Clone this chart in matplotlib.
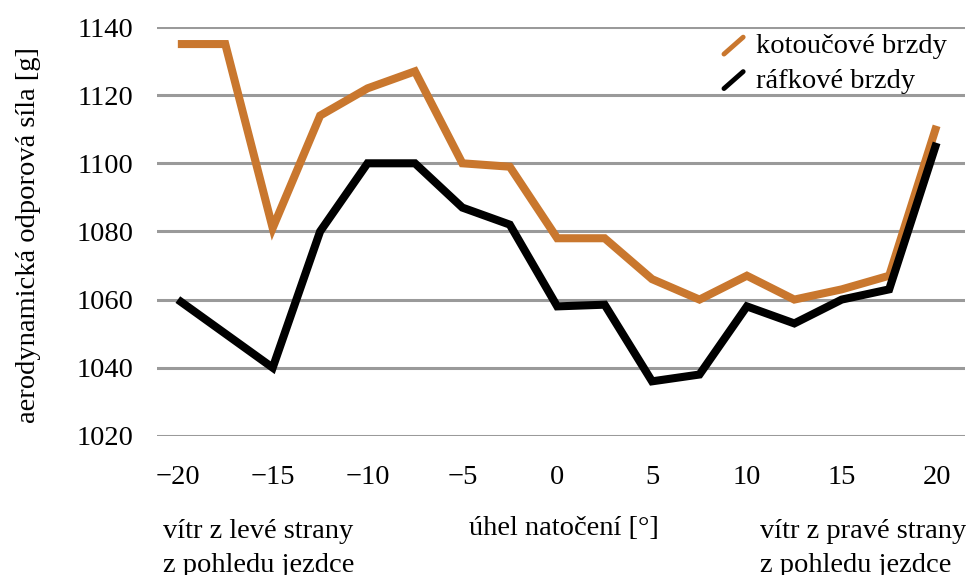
import matplotlib.pyplot as plt
from matplotlib.lines import Line2D
from matplotlib.legend_handler import HandlerBase

# angles of rotation and measured drag force [g]
angles_disc = [-20, -17.5, -15, -12.5, -10, -7.5, -5, -2.5, 0, 2.5, 5, 7.5, 10, 12.5, 15, 17.5, 20]
disc = [1135, 1135, 1081, 1114, 1122, 1127, 1100, 1099, 1078, 1078, 1066, 1060, 1067, 1060, 1063, 1067, 1111]

angles_rim = [-20, -15, -12.5, -10, -7.5, -5, -2.5, 0, 2.5, 5, 7.5, 10, 12.5, 15, 17.5, 20]
rim = [1060, 1040, 1080, 1100, 1100, 1087, 1082, 1058, 1058.5, 1036, 1038, 1058, 1053, 1060, 1063, 1106]

xticks = [-20, -15, -10, -5, 0, 5, 10, 15, 20]
yticks = [1020, 1040, 1060, 1080, 1100, 1120, 1140]

ORANGE = '#C9772E'
FS = 20.5

plt.rcParams['font.family'] = ['Liberation Serif', 'DejaVu Serif']


class DiagHandler(HandlerBase):
    def create_artists(self, legend, orig_handle, xdescent, ydescent,
                       width, height, fontsize, trans):
        ln = Line2D([0.1 * width, 0.85 * width], [-0.05 * height, 0.8 * height],
                    color=orig_handle.get_color(), lw=3.5, solid_capstyle='round',
                    transform=trans)
        return [ln]


fig = plt.figure(figsize=(9.66, 5.75), dpi=100)
ax = fig.add_axes([0.1625, 0.242, 0.8365, 0.711])

l1, = ax.plot(angles_disc, disc, color=ORANGE, lw=5.8, label='kotoučové brzdy',
              solid_joinstyle='miter', solid_capstyle='butt', zorder=3)
l2, = ax.plot(angles_rim, rim, color='black', lw=5.8, label='ráfkové brzdy',
              solid_joinstyle='miter', solid_capstyle='butt', zorder=3)

ax.set_xlim(-21.1, 21.5)
ax.set_ylim(1020, 1140)
ax.set_xticks(xticks)
ax.set_yticks(yticks)
ax.grid(axis='y', color='#9a9a9a', lw=2.2)
ax.set_axisbelow(True)
for s in ax.spines.values():
    s.set_visible(False)
ax.tick_params(length=0, labelsize=FS)
ax.tick_params(axis='x', pad=21)
ax.tick_params(axis='y', pad=17)

fig.text(0.030, 0.591, 'aerodynamická odporová síla [g]', fontsize=FS,
         rotation=90, ha='center', va='center')

leg = ax.legend(handles=[l1, l2], handler_map={Line2D: DiagHandler()},
                loc='upper right', bbox_to_anchor=(0.977, 0.985), frameon=False,
                fontsize=FS, handlelength=0.9, handletextpad=0.3, labelspacing=0.3,
                borderaxespad=0, borderpad=0)

fig.text(0.169, 0.0461, 'vítr z levé strany\nz pohledu jezdce', fontsize=FS,
         linespacing=1.5, va='center', ha='left')
fig.text(0.485, 0.0817, 'úhel natočení [°]', fontsize=FS, va='center', ha='left')
fig.text(0.787, 0.0461, 'vítr z pravé strany\nz pohledu jezdce', fontsize=FS,
         linespacing=1.5, va='center', ha='left')

fig.savefig('out.png', dpi=100)
